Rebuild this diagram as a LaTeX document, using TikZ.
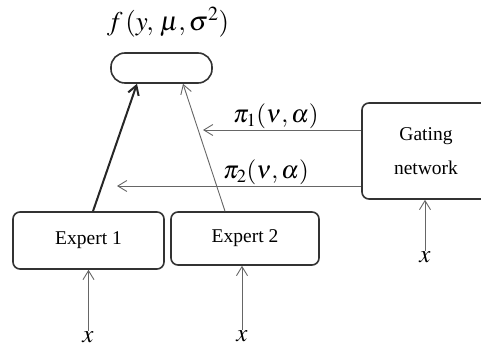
\documentclass[tikz,border=0pt]{standalone}
\usepackage{amsmath}
\usepackage{mathptmx}
\usepackage{fontspec}
\setmainfont{Liberation Serif}
\usetikzlibrary{arrows.meta,positioning,calc}

\begin{document}
\begin{tikzpicture}[x=1pt,y=-1pt,
	box/.style={draw=black!80,line width=1.6pt,rounded corners=7pt,font=\fontsize{19.5}{34}\selectfont,align=center,inner sep=0pt},
	lnk/.style={draw=black!60,line width=0.9pt,-{Straight Barb[length=9pt,width=11pt]}},
	lbl/.style={font=\fontsize{25}{30}\selectfont,inner sep=0pt}]
	\useasboundingbox (0,0) rectangle (481,347);
	\clip (0,0) rectangle (481,347);
	\node[box,minimum width=101pt,minimum height=30pt,rounded corners=14pt] (out) at (161.5,68) {};
	\node[lbl,font=\fontsize{27}{32}\selectfont] (f) at (168,22) {$f\,(y,\,\mu,\sigma^2)$};
	\node[box,minimum width=151pt,minimum height=57pt] (e1) at (88.5,240.5) {Expert 1};
	\node[box,minimum width=148pt,minimum height=53pt] (e2) at (245,238.5) {Expert 2};
	\node[box,minimum width=128pt,minimum height=96pt] (gate) at (426,151) {Gating\\network};
	\node[lbl] (x1) at (88,337) {$x$};
	\node[lbl] (x2) at (242,336) {$x$};
	\node[lbl] (x3) at (425,257) {$x$};
	\coordinate (p1) at (203,130);
	\coordinate (p2) at (117,186);
	\draw[lnk,draw=black!85,line width=2pt] ([xshift=4.5pt]e1.north) -- ([xshift=-24.5pt]out.south);
	\draw[lnk] ([xshift=-20pt]e2.north) -- ([xshift=21.5pt]out.south);
	\draw[lnk] (gate.west |- p1) -- (p1) node[lbl,pos=0.54,above=1pt]{$\pi_1(\nu,\alpha)$};
	\draw[lnk] (gate.west |- p2) -- (p2) node[lbl,pos=0.39,above=1pt]{$\pi_2(\nu,\alpha)$};
	\draw[lnk] (x1.north -| e1.south) -- (e1.south);
	\draw[lnk] (x2.north) -- (e2.south -| x2.north);
	\draw[lnk] (x3.north) -- (gate.south -| x3.north);
\end{tikzpicture}
\end{document}
